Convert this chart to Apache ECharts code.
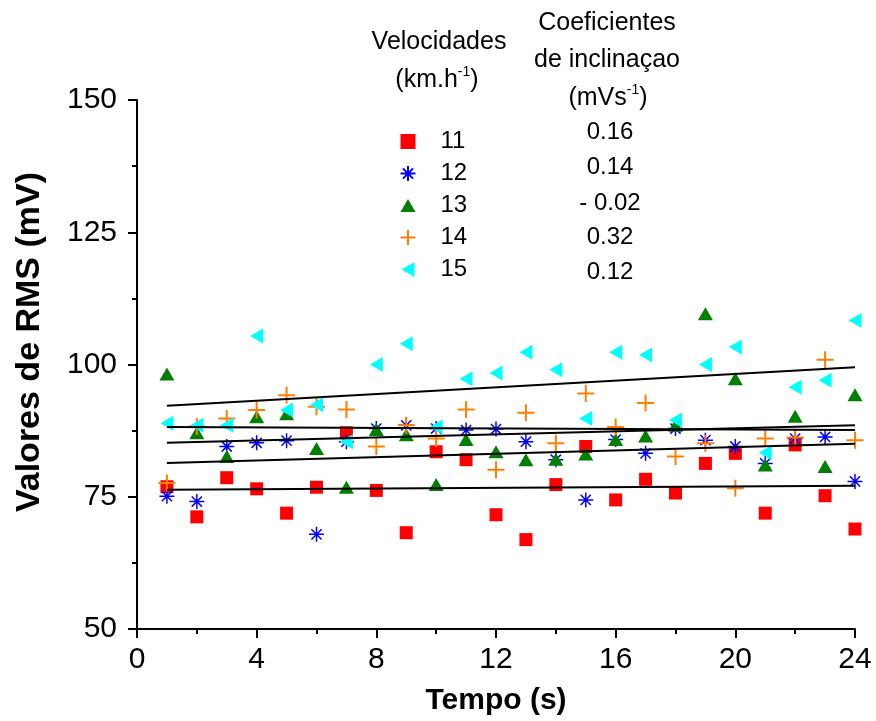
<!DOCTYPE html>
<html>
<head>
<meta charset="utf-8">
<script src="https://cdn.jsdelivr.net/npm/echarts@6/dist/echarts.min.js"></script>
<style>html,body{margin:0;padding:0;background:#fff;}#c{width:876px;height:721px;}</style>
</head>
<body>
<div id="c"></div>
<script>
const times = [1,2,3,4,5,6,7,8,9,10,11,12,13,14,15,16,17,18,19,20,21,22,23,24];
const speeds = ['11','12','13','14','15'];
const slopes = ['0.16','0.14','- 0.02','0.32','0.12'];
const v11 = [76.9,71.2,78.6,76.5,71.9,76.8,87.1,76.2,68.2,83.5,82.0,71.6,66.9,77.3,84.5,74.4,78.3,75.7,81.3,83.2,71.9,84.8,75.2,68.9];
const v12 = [75.1,74.1,84.5,85.2,85.6,67.9,85.4,87.9,88.5,87.9,87.6,87.8,85.4,82.0,74.4,85.8,83.2,87.9,85.7,84.5,81.3,86.0,86.3,77.9];
const v13 = [98.2,87.1,82.6,90.1,90.7,84.1,76.8,87.7,86.7,77.3,85.8,83.5,82.0,82.1,83.1,85.8,86.5,88.5,109.6,97.3,81.0,90.2,80.7,94.3];
const v14 = [77.6,88.3,89.8,91.4,94.2,92.0,91.5,84.5,88.5,86.0,91.5,80.1,90.9,85.1,94.5,88.2,92.7,82.6,85.1,76.6,86.0,86.2,100.9,85.7];
const v15 = [88.9,88.5,88.5,105.4,91.4,92.4,85.4,100.0,103.9,88.2,97.3,98.4,102.3,99.0,89.8,102.3,101.8,89.5,100.0,103.3,83.3,95.7,97.0,108.3];
const trendX = [1,24];
const trendStart = [92.2,88.2,85.2,81.4,76.3];
const trendEnd = [99.5,87.6,88.5,85.0,77.1];
const xTicks = {min:0,max:24,interval:4};
const yTicks = {min:50,max:150,interval:25};

const FONT = '"Liberation Sans", Arial, sans-serif';
const values = [v11,v12,v13,v14,v15];
const colors = ['#FF0000','#0000FF','#008000','#FF8000','#00FFFF'];
const symbols = [
  {symbol:'rect', symbolSize:13, rotate:0, border:0, icon:'rect'},
  {symbol:'path://M5,0L5,10M0,5L10,5M1.6,1.6L8.4,8.4M8.4,1.6L1.6,8.4', symbolSize:15, rotate:0, border:1.5, icon:null},
  {symbol:'triangle', symbolSize:[15,13], rotate:0, border:0, icon:'path://M7.5,0L15,13L0,13Z'},
  {symbol:'path://M5,0L5,10M0,5L10,5', symbolSize:17, rotate:0, border:2, icon:null},
  {symbol:'triangle', symbolSize:[15,13], rotate:90, border:0, icon:'path://M0,7.5L13,0L13,15Z'}
];

const series = [];
speeds.forEach((s,i)=>{
  series.push({
    name:s, type:'scatter', z:2,
    data: times.map((t,k)=>[t, values[i][k]]),
    symbol: symbols[i].symbol,
    symbolSize: symbols[i].symbolSize,
    symbolRotate: symbols[i].rotate,
    itemStyle:{color:colors[i], borderColor:colors[i], borderWidth:symbols[i].border, opacity:1},
    emphasis:{disabled:true}
  });
});
trendStart.forEach((a,i)=>{
  series.push({
    name:'fit'+i, type:'line', z:5, symbol:'none', silent:true,
    data:[[trendX[0],a],[trendX[1],trendEnd[i]]],
    lineStyle:{color:'#000', width:2}
  });
});

const axisCommon = {
  axisLine:{show:true, onZero:false, lineStyle:{color:'#000', width:2}},
  axisTick:{show:true, inside:false, length:9, lineStyle:{color:'#000', width:2}},
  minorTick:{show:true, splitNumber:2, length:5, lineStyle:{color:'#000', width:2}},
  splitLine:{show:false},
  axisLabel:{color:'#000', fontSize:30, fontFamily:FONT}
};

const headerStyle = {fill:'#000', font:'25px '+FONT, textAlign:'center', textVerticalAlign:'middle'};
const supRich = {a:{fontSize:25, fontFamily:FONT, color:'#000', verticalAlign:'bottom', lineHeight:28},
                 s:{fontSize:14, fontFamily:FONT, color:'#000', verticalAlign:'top', lineHeight:28}};
const graphic = [
  {type:'text', x:439, y:42, style:Object.assign({text:'Velocidades'}, headerStyle)},
  {type:'text', x:437, y:79, style:{text:'{a|(km.h}{s|-1}{a|)}', textAlign:'center', textVerticalAlign:'middle', rich:supRich}},
  {type:'text', x:607, y:23, style:Object.assign({text:'Coeficientes'}, headerStyle)},
  {type:'text', x:607, y:60, style:Object.assign({text:'de inclinaçao'}, headerStyle)},
  {type:'text', x:608, y:97, style:{text:'{a|(mVs}{s|-1}{a|)}', textAlign:'center', textVerticalAlign:'middle', rich:supRich}},
  {type:'text', x:30, y:342, rotation:Math.PI/2, style:{text:'Valores de RMS (mV)', fill:'#000', font:'bold 34px '+FONT, textAlign:'center', textVerticalAlign:'middle'}}
];
const slopeY = [132,167,203,237,272];
slopes.forEach((s,i)=>{
  graphic.push({type:'text', x:610, y:slopeY[i], style:Object.assign({}, headerStyle, {text:s, font:'24px '+FONT})});
});

const legendData = speeds.map((s,i)=> symbols[i].icon ? {name:s, icon:symbols[i].icon} : {name:s});

const chart = echarts.init(document.getElementById('c'), null, {renderer:'canvas'});
chart.setOption({
  animation:false,
  backgroundColor:'#fff',
  grid:{left:137, right:21, top:100, bottom:89, containLabel:false},
  xAxis: Object.assign({}, axisCommon, {
    type:'value', min:xTicks.min, max:xTicks.max, interval:xTicks.interval,
    name:'Tempo (s)', nameLocation:'middle', nameGap:57,
    nameTextStyle:{color:'#000', fontSize:30, fontWeight:'bold', fontFamily:FONT},
    axisLabel:Object.assign({}, axisCommon.axisLabel, {margin:16})
  }),
  yAxis: Object.assign({}, axisCommon, {
    type:'value', min:yTicks.min, max:yTicks.max, interval:yTicks.interval,
    axisLabel:Object.assign({}, axisCommon.axisLabel, {margin:20})
  }),
  legend:{
    data:legendData, orient:'vertical', left:394.5, top:124.5,
    itemWidth:15, itemHeight:15, itemGap:8, selectedMode:false, symbolRotate:0,
    textStyle:{color:'#000', fontSize:24, fontFamily:FONT, padding:[0,0,0,20]}
  },
  graphic: graphic,
  series: series
});
</script>
</body>
</html>
